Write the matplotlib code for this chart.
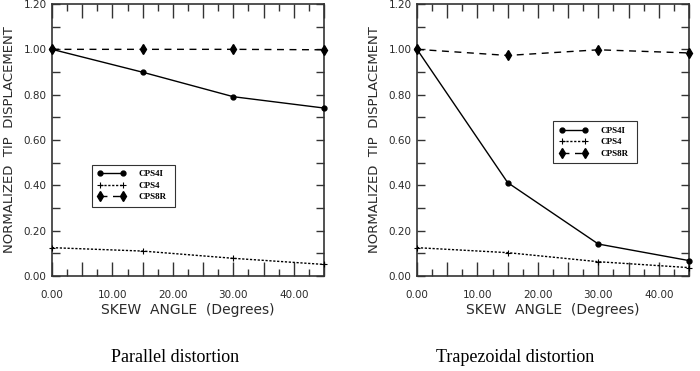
import numpy as np
import matplotlib
matplotlib.use("Agg")
import matplotlib.pyplot as plt
from matplotlib.ticker import MultipleLocator, FuncFormatter

# Skew angles (degrees)
angles = [0, 15, 30, 45]

# Parallel distortion
par_cps4i = [1.000, 0.899, 0.791, 0.741]
par_cps4 = [0.125, 0.110, 0.078, 0.051]
par_cps8r = [1.000, 1.000, 1.000, 0.998]

# Trapezoidal distortion
trap_cps4i = [1.000, 0.412, 0.141, 0.068]
trap_cps4 = [0.125, 0.103, 0.063, 0.037]
trap_cps8r = [1.000, 0.973, 0.998, 0.984]

captions = ["Parallel distortion", "Trapezoidal distortion"]
legend_names = ["CPS4I", "CPS4", "CPS8R"]

fig = plt.figure(figsize=(7.0, 3.71), dpi=100)
fig.patch.set_facecolor("white")

ax_pos = [[52 / 700, 95 / 371, 272 / 700, 272 / 371],
          [417 / 700, 95 / 371, 272 / 700, 272 / 371]]
leg_anchor = [(0.129, 0.246, 0.341, 0.173), (0.485, 0.404, 0.342, 0.177)]
cap_x = [175 / 700, 515 / 700]

datasets = [(par_cps4i, par_cps4, par_cps8r), (trap_cps4i, trap_cps4, trap_cps8r)]

axis_col = "#333333"
text_col = "#2a2a2a"

for k, (s1, s2, s3) in enumerate(datasets):
    ax = fig.add_axes(ax_pos[k])
    ax.plot(angles, s1, color="black", lw=1.0, marker="o", ms=3.5, label=legend_names[0],
            clip_on=False, zorder=3)
    ax.plot(angles, s2, color="black", lw=1.0, dashes=(1.6, 1.2), marker="+", ms=5,
            mew=0.8, label=legend_names[1], clip_on=False, zorder=3)
    ax.plot(angles, s3, color="black", lw=1.0, dashes=(5, 4), marker="d", ms=5,
            label=legend_names[2], clip_on=False, zorder=3)

    ax.set_xlim(0, 45)
    ax.set_ylim(0, 1.2)
    ax.xaxis.set_major_locator(MultipleLocator(5))
    ax.xaxis.set_minor_locator(MultipleLocator(2.5))
    ax.xaxis.set_major_formatter(FuncFormatter(
        lambda v, p: f"{v:.2f}" if abs(v % 10) < 1e-6 else ""))
    ax.yaxis.set_major_locator(MultipleLocator(0.2))
    ax.yaxis.set_minor_locator(MultipleLocator(0.1))
    ax.yaxis.set_major_formatter(FuncFormatter(lambda v, p: f"{v:.2f}"))

    ax.tick_params(axis="x", which="major", direction="in", length=10, width=1.0,
                   top=True, color=axis_col, labelsize=7.5, labelcolor=text_col, pad=10)
    ax.tick_params(axis="x", which="minor", direction="in", length=5, width=1.0,
                   top=True, color=axis_col)
    ax.tick_params(axis="y", which="both", direction="in", length=6, width=1.0,
                   right=True, color=axis_col, labelsize=7.5, labelcolor=text_col, pad=4)
    for sp in ax.spines.values():
        sp.set_linewidth(1.2)
        sp.set_color(axis_col)

    ax.set_xlabel("SKEW  ANGLE  (Degrees)", fontsize=10, color=text_col, labelpad=2)
    ax.set_ylabel("NORMALIZED  TIP  DISPLACEMENT", fontsize=9.5, color=text_col, labelpad=5)

    leg = ax.legend(loc="center", bbox_to_anchor=leg_anchor[k], mode="expand",
                    frameon=True, fancybox=False, edgecolor="black", handlelength=3.2,
                    handletextpad=1.4, borderpad=0.6, labelspacing=0.35, numpoints=2,
                    prop={"family": "Liberation Serif", "weight": "bold", "size": 6.5})
    leg.get_frame().set_linewidth(0.8)

    fig.text(cap_x[k], 14 / 371, captions[k], ha="center", va="center",
             family="Liberation Serif", fontsize=13)

fig.savefig("out.png", dpi=100)
